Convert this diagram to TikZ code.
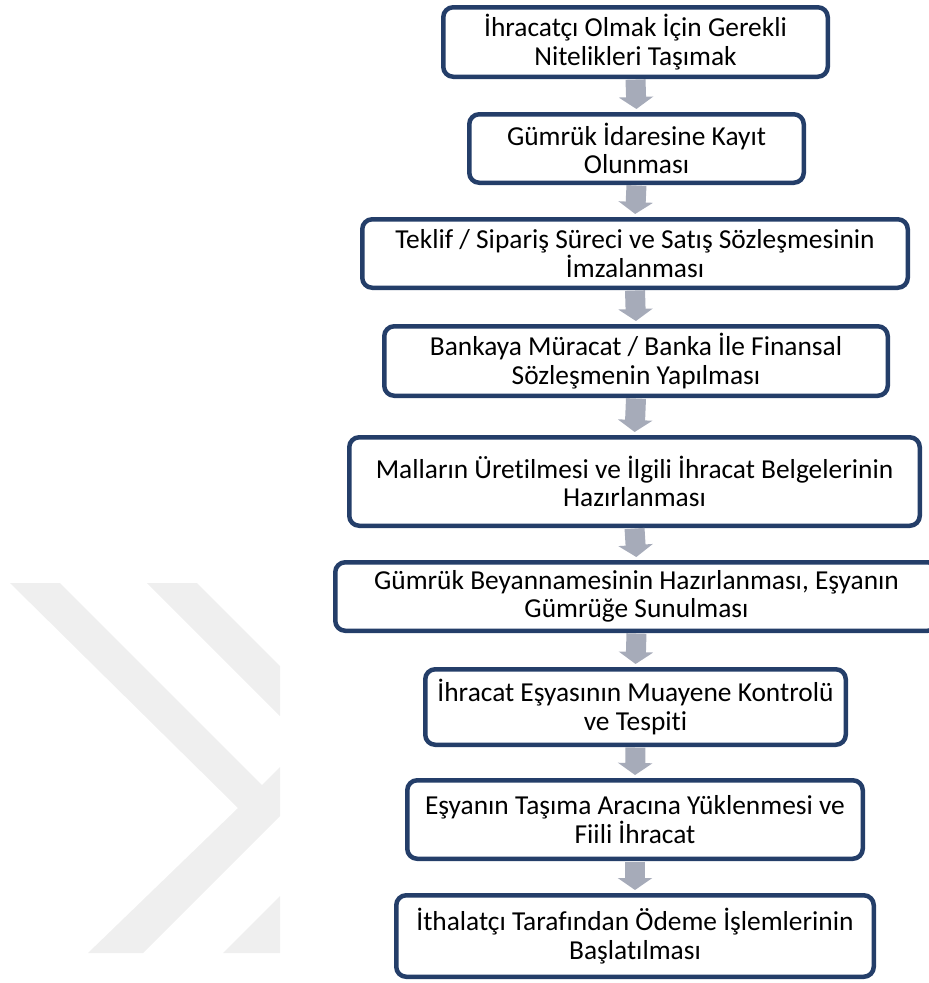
\documentclass[tikz,border=0pt]{standalone}
\usepackage{fontspec}
\setmainfont{Carlito}[Ligatures=NoCommon]
\usetikzlibrary{arrows.meta}
\definecolor{boxblue}{RGB}{36,62,105}
\definecolor{arrgray}{RGB}{166,171,185}
\definecolor{wmgray}{RGB}{239,239,239}
\tikzset{
  stepbox/.style={draw=boxblue, line width=4.5bp, rounded corners=10bp, fill=white,
    align=center, inner sep=0pt, font=\fontsize{27.5}{28.5}\selectfont, text=black},
  flowarrow/.style={draw=arrgray, line width=20bp,
    -{Triangle[width=34bp,length=12bp]}, arrgray, shorten <=0.5bp, shorten >=3bp},
  wm/.style={fill=wmgray, draw=none}
}
\begin{document}
\begin{tikzpicture}[x=1bp,y=-1bp]
\useasboundingbox (0,0) rectangle (929,983);
% watermark
\fill[wm] (10,583) -- (60,583) -- (262,785) -- (280,767) -- (280,816) -- (143,953) -- (88,953) -- (238,808) -- cycle;
\fill[wm] (147,583) -- (197,583) -- (280,666) -- (280,716) -- cycle;
\fill[wm] (223,953) -- (280,953) -- (280,896) -- cycle;
% boxes
\node[stepbox, minimum width=384.5bp, minimum height=69.5bp] (b1) at (635.5,42) {İhracatçı Olmak İçin Gerekli\\Nitelikleri Taşımak};
\node[stepbox, minimum width=334.5bp, minimum height=68.5bp] (b2) at (636.5,148.5) {Gümrük İdaresine Kayıt\\Olunması};
\node[stepbox, minimum width=545.5bp, minimum height=68.5bp] (b3) at (635,253.5) {Teklif / Sipariş Süreci ve Satış Sözleşmesinin\\İmzalanması};
\node[stepbox, minimum width=503.5bp, minimum height=69.5bp] (b4) at (636,361) {Bankaya Müracat / Banka İle Finansal\\Sözleşmenin Yapılması};
\node[stepbox, minimum width=570.5bp, minimum height=88.5bp] (b5) at (634.5,481.5) {Malların Üretilmesi ve İlgili İhracat Belgelerinin\\Hazırlanması};
\node[stepbox, minimum width=602.5bp, minimum height=68.5bp] (b6) at (636.5,596.5) {Gümrük Beyannamesinin Hazırlanması, Eşyanın\\Gümrüğe Sunulması};
\node[stepbox, minimum width=420.5bp, minimum height=75.5bp] (b7) at (635.5,707) {İhracat Eşyasının Muayene Kontrolü\\ve Tespiti};
\node[stepbox, minimum width=455.5bp, minimum height=78.5bp] (b8) at (635,819.5) {Eşyanın Taşıma Aracına Yüklenmesi ve\\Fiili İhracat};
\node[stepbox, minimum width=477.5bp, minimum height=81.5bp] (b9) at (635,936) {İthalatçı Tarafından Ödeme İşlemlerinin\\Başlatılması};
% arrows
\draw[flowarrow] (b1.south) -- (b2.north);
\draw[flowarrow] (b2.south) -- (b3.north);
\draw[flowarrow] (b3.south) -- (b4.north);
\draw[flowarrow] (b4.south) -- (b5.north);
\draw[flowarrow] (b5.south) -- (b6.north);
\draw[flowarrow] (b6.south) -- (b7.north);
\draw[flowarrow] (b7.south) -- (b8.north);
\draw[flowarrow] (b8.south) -- (b9.north);
\end{tikzpicture}
\end{document}
